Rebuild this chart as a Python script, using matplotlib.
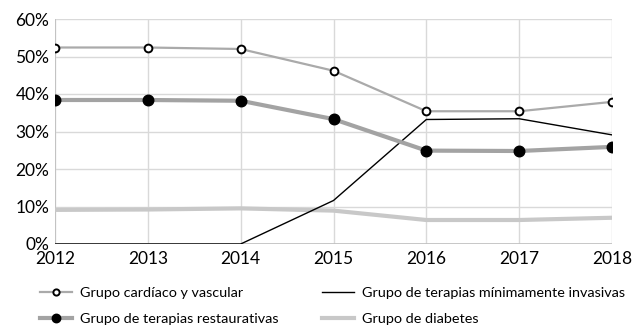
import matplotlib
matplotlib.use("Agg")
import matplotlib.pyplot as plt
from matplotlib.ticker import FuncFormatter

plt.rcParams['font.family'] = ['Lato', 'DejaVu Sans']

years = [2012, 2013, 2014, 2015, 2016, 2017, 2018]
cardiaco = [52.4, 52.4, 52.0, 46.2, 35.4, 35.4, 37.9]
restaurativas = [38.4, 38.4, 38.2, 33.3, 24.9, 24.8, 25.9]
minimamente = [0.0, 0.0, 0.0, 11.6, 33.2, 33.4, 29.1]
diabetes = [9.1, 9.2, 9.5, 8.9, 6.4, 6.4, 7.0]
y_ticks = [0, 10, 20, 30, 40, 50, 60]

W, H = 634, 330
fig = plt.figure(figsize=(W / 100, H / 100), dpi=100)
ax = fig.add_axes([55 / W, 1 - 244 / H, (612 - 55) / W, (244 - 19) / H])

h_card, = ax.plot(years, cardiaco, color='#aaaaaa', lw=1.6, marker='o', ms=5.6,
                  mfc='white', mec='black', mew=1.4,
                  label='Grupo cardíaco y vascular', zorder=4)
h_min, = ax.plot(years, minimamente, color='black', lw=1.0,
                 label='Grupo de terapias mínimamente invasivas', zorder=3)
h_rest, = ax.plot(years, restaurativas, color='#a3a3a3', lw=3.0, marker='o', ms=7.6,
                  mfc='black', mec='black',
                  label='Grupo de terapias restaurativas', zorder=4)
h_diab, = ax.plot(years, diabetes, color='#c8c8c8', lw=3.0,
                  label='Grupo de diabetes', zorder=2)

ax.set_xlim(2012, 2018)
ax.set_ylim(0, 60)
ax.set_xticks(years)
ax.set_yticks(y_ticks)
ax.yaxis.set_major_formatter(FuncFormatter(lambda v, p: f'{int(v)}%'))
ax.grid(True, color='#d9d9d9', lw=1.0)
ax.set_axisbelow(True)
for s in ax.spines.values():
    s.set_visible(False)
ax.axvline(2012, color='#bfbfbf', lw=1.2, zorder=1)
ax.axhline(0, color='#bfbfbf', lw=1.2, zorder=1)
ax.tick_params(length=0, labelsize=12.5)
ax.tick_params(axis='y', pad=4)
ax.tick_params(axis='x', pad=5)

leg_kw = dict(loc='upper left', frameon=False, fontsize=10.4, handlelength=2.2,
              handletextpad=0.55, labelspacing=0.95, markerscale=0.8,
              borderpad=0, borderaxespad=0)
leg1 = fig.legend(handles=[h_card, h_rest], bbox_to_anchor=(40 / W, 1 - 287 / H), **leg_kw)
leg2 = fig.legend(handles=[h_min, h_diab], bbox_to_anchor=(322 / W, 1 - 287 / H), **leg_kw)

fig.savefig('out.png', dpi=100)
